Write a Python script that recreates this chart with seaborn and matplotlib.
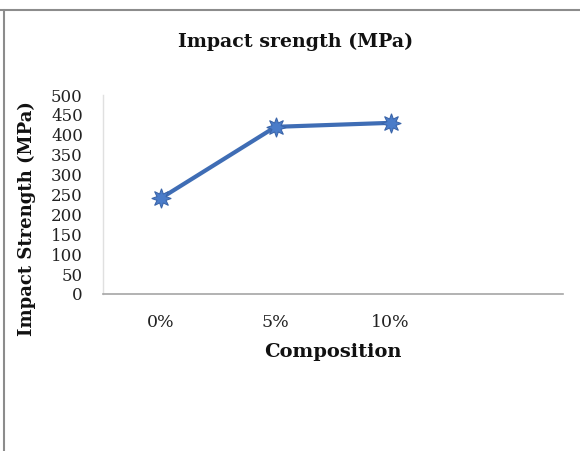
import matplotlib
matplotlib.use("Agg")
import matplotlib.pyplot as plt
import seaborn as sns
import pandas as pd
from matplotlib.lines import Line2D

compositions = ["0%", "5%", "10%", ""]
strength = [240, 420, 430]
yticks = [0, 50, 100, 150, 200, 250, 300, 350, 400, 450, 500]

df = pd.DataFrame({"Composition": compositions[:3], "Strength": strength})

sns.set_theme(style="white")
plt.rcParams["font.family"] = ["DejaVu Serif"]

fig = plt.figure(figsize=(5.8, 4.51), dpi=100)
ax = fig.add_axes([103 / 580, 1 - 294 / 451, 460 / 580, 199 / 451])

sns.lineplot(data=df, x="Composition", y="Strength", ax=ax, color="#3F6DB5",
             linewidth=3, marker=(8, 1, 0), markersize=14,
             markerfacecolor="#4A7CC9", markeredgecolor="#3A64A8", sort=False)

ax.set_xlim(-0.5, 3.5)
ax.set_ylim(0, 500)
ax.set_yticks(yticks)
ax.set_yticklabels([str(v) for v in yticks], fontsize=12, color="#222222")
ax.set_xticks(range(4))
ax.set_xticklabels(compositions, fontsize=12.5, color="#222222")
ax.tick_params(axis="y", length=0, pad=14.5)
ax.tick_params(axis="x", length=0, pad=14.5)
ax.set_xlabel("")
ax.set_ylabel("")

for side in ["top", "right"]:
    ax.spines[side].set_visible(False)
ax.spines["bottom"].set_color("#A6A6A6")
ax.spines["bottom"].set_linewidth(1.2)
ax.spines["left"].set_color("#E0E0E0")
ax.spines["left"].set_linewidth(1)

fig.text(296 / 580, 1 - 42 / 451, "Impact srength (MPa)", ha="center", va="center",
         fontsize=13.7, fontweight="bold", color="#111111")
fig.text(333 / 580, 1 - 352 / 451, "Composition", ha="center", va="center",
         fontsize=14, fontweight="bold", color="#111111")
fig.text(27 / 580, 1 - 219 / 451, "Impact Strength (MPa)", ha="center", va="center",
         rotation=90, fontsize=13, fontweight="bold", color="#111111")

# outer frame of the original chart
fig.add_artist(Line2D([0, 1], [1 - 10 / 451] * 2, color="#8C8C8C", linewidth=1.5))
fig.add_artist(Line2D([4 / 580] * 2, [0, 1 - 10 / 451], color="#8C8C8C", linewidth=1.5))

fig.savefig("out.png", dpi=100)
